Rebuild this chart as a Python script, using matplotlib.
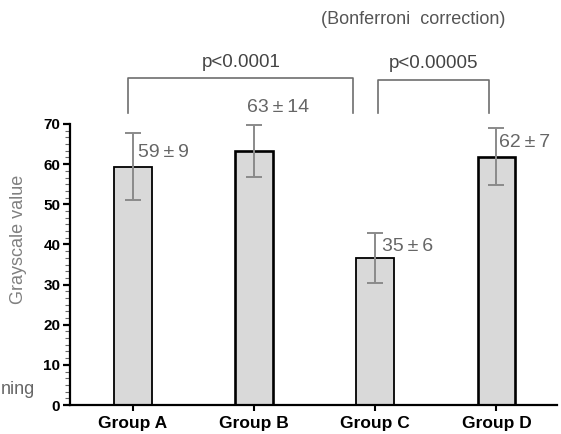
import matplotlib
matplotlib.use("Agg")
import matplotlib.pyplot as plt
from matplotlib.ticker import MultipleLocator

plt.rcParams['font.family'] = ['Liberation Sans', 'DejaVu Sans']

groups = ["Group A", "Group B", "Group C", "Group D"]
means = [59.4, 63.2, 36.7, 61.9]
errors = [8.4, 6.5, 6.2, 7.0]
value_labels = ["59\u2009\u00b1\u20099", "63\u2009\u00b1\u200914",
                "35\u2009\u00b1\u20096", "62\u2009\u00b1\u20097"]
# label anchor (x offset from bar centre, y in data units)
label_x = [0.04, -0.06, 0.055, 0.02]
label_y = [62.8, 74.0, 39.4, 65.3]

fig = plt.figure(figsize=(5.61, 4.34), dpi=100)
ax = fig.add_axes([0.1248, 0.0668, 0.868, 0.6475])

x = list(range(len(groups)))
ax.bar(x, means, width=0.31, color="#d9d9d9", edgecolor="black",
       linewidth=[1.3, 1.9, 1.3, 1.9], zorder=2)
ax.errorbar(x, means, yerr=errors, fmt="none", ecolor="#8a8a8a",
            elinewidth=1.4, capsize=6, capthick=1.4, zorder=3)

for i, txt in enumerate(value_labels):
    ax.text(x[i] + label_x[i], label_y[i], txt, fontsize=14, color="#666666",
            ha="left", va="center")

# significance brackets
def bracket(x0, x1, ytop, ybot, label):
    ax.plot([x0, x0, x1, x1], [ybot, ytop, ytop, ybot], color="#6e6e6e",
            lw=1.2, clip_on=False)
    ax.text((x0 + x1) / 2, ytop + 4.0, label, fontsize=13.5, color="#444444",
            ha="center", va="center", clip_on=False)

bracket(-0.04, 1.82, 81.4, 72.8, "p<0.0001")
bracket(2.02, 2.94, 81.0, 72.8, "p<0.00005")

fig.text(413 / 561, 1 - 20 / 434, "(Bonferroni  correction)", fontsize=13,
         color="#555555", ha="center", va="center")
fig.text(1 / 561, 1 - 389 / 434, "ning", fontsize=13, color="#666666",
         ha="left", va="center")

ax.set_xlim(-0.52, 3.5)
ax.set_ylim(0, 70)
ax.set_xticks(x)
ax.set_xticklabels(groups, fontsize=12.5, fontweight="bold")
ax.set_yticks(range(0, 71, 10))
ax.yaxis.set_minor_locator(MultipleLocator(10 / 6))
for lab in ax.get_yticklabels():
    lab.set_fontweight("bold")
    lab.set_fontsize(11)

ax.set_ylabel("Grayscale value", fontsize=13, color="#808080")
ax.yaxis.set_label_coords(-0.088, 0.59)

for s in ["top", "right"]:
    ax.spines[s].set_visible(False)
for s in ["left", "bottom"]:
    ax.spines[s].set_linewidth(1.6)
ax.tick_params(axis="y", which="major", length=5, width=1.6, pad=2)
ax.tick_params(axis="y", which="minor", length=3.5, width=0.8, color="#666666")
ax.tick_params(axis="x", which="major", length=4, width=1.5, pad=4)

fig.savefig("out.png", dpi=100)
